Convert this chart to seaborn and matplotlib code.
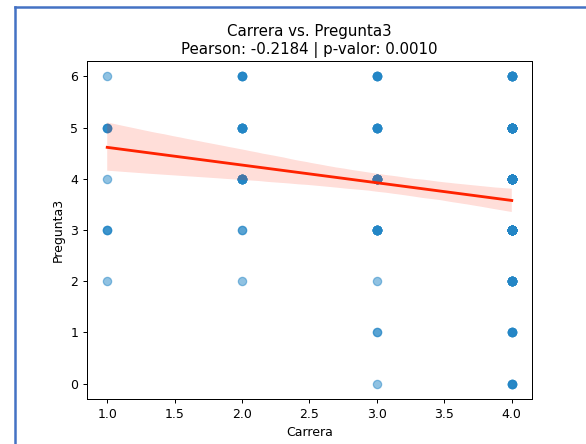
import numpy as np
import pandas as pd
import matplotlib.pyplot as plt
from matplotlib.lines import Line2D
import seaborn as sns

# respuestas agrupadas: (carrera, pregunta3) -> cantidad de personas
carrera = [1, 1, 1, 1, 1,
           2, 2, 2, 2, 2,
           3, 3, 3, 3, 3, 3, 3,
           4, 4, 4, 4, 4, 4, 4]
pregunta3 = [6, 5, 4, 3, 2,
             6, 5, 4, 3, 2,
             6, 5, 4, 3, 2, 1, 0,
             6, 5, 4, 3, 2, 1, 0]
cantidad = [1, 4, 1, 3, 1,
            5, 10, 12, 2, 1,
            6, 9, 13, 13, 1, 2, 1,
            11, 27, 35, 41, 16, 6, 5]

df = pd.DataFrame({
    'Carrera': np.repeat(carrera, cantidad),
    'Pregunta3': np.repeat(pregunta3, cantidad),
})

fig = plt.figure(figsize=(586 / 90, 444 / 90), dpi=90)
ax = fig.add_axes([87 / 586, 45 / 444, 445 / 586, 338 / 444])

sns.regplot(data=df, x='Carrera', y='Pregunta3', ax=ax, seed=3, color='#2386c6',
            scatter_kws={'alpha': 0.5, 's': 44}, line_kws={'color': '#ff2200'})
ax.set_title('Carrera vs. Pregunta3\nPearson: -0.2184 | p-valor: 0.0010')

# borde azul de la captura
fig.add_artist(Line2D([15 / 586, 15 / 586], [0, 1 - 7 / 444], transform=fig.transFigure,
                      color='#4472c4', linewidth=2))
fig.add_artist(Line2D([15 / 586, 1], [1 - 7 / 444, 1 - 7 / 444], transform=fig.transFigure,
                      color='#4472c4', linewidth=2))

fig.savefig('out.png', dpi=90)
